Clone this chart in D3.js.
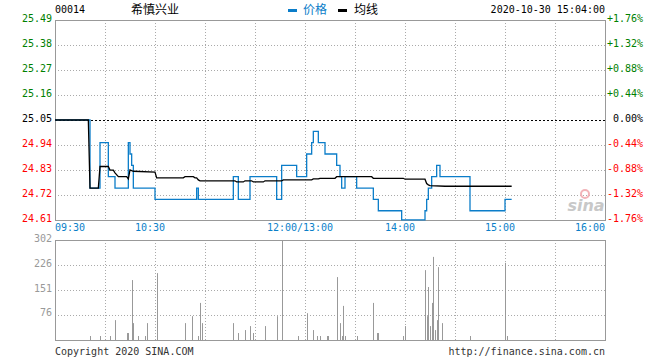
<!DOCTYPE html>
<html lang="zh">
<head>
<meta charset="utf-8">
<title>00014 希慎兴业 分时</title>
<script src="https://d3js.org/d3.v7.min.js"></script>
<style>
  body { margin: 0; background: #fff; }
  text { font-family: "DejaVu Sans Mono", monospace; font-size: 10px; }
</style>
</head>
<body>
<script>
// quote data
var prevClose = 25.05
var pctRange = 0.0176

var priceTimes = ["09:30","09:51","09:57","10:02","10:06","10:14","10:15","10:16","10:17","10:30",
                  "10:55","10:56","11:17","11:20","11:27","11:43","11:46","11:55","13:01","13:04",
                  "13:05","13:08","13:12","13:19","13:21","13:22","13:24","13:31","13:41","13:44",
                  "13:58","14:12","14:13","14:14","14:16","14:18","14:19","14:21","14:39","15:00","15:04"]
var priceValues = [25.05,24.75,24.95,24.80,24.75,24.95,24.90,24.85,24.75,24.70,
                   24.75,24.70,24.80,24.70,24.80,24.70,24.85,24.80,24.90,24.95,
                   25.00,24.95,24.90,24.85,24.80,24.75,24.80,24.75,24.70,24.65,
                   24.61,24.65,24.70,24.75,24.80,24.80,24.85,24.80,24.65,24.70,24.70]

var avgTimes = ["09:30","09:50","09:51","09:56","09:57","10:02","10:03","10:05","10:06","10:08",
                "10:13","10:14","10:15","10:17","10:30","10:31","10:47","10:48","10:53","10:54",
                "10:55","10:56","10:57","11:18","11:19","11:23","11:24","11:28","11:29","11:35",
                "11:36","11:46","11:47","13:04","13:05","13:08","13:09","13:18","13:19","13:40",
                "13:41","13:59","14:00","14:12","14:13","14:14","14:15","14:24","15:04"]
var avgValues = [25.05,25.05,24.75,24.75,24.845,24.845,24.829,24.829,24.817,24.80,
                 24.80,24.79,24.83,24.824,24.82,24.795,24.795,24.80,24.80,24.795,
                 24.795,24.786,24.782,24.782,24.777,24.777,24.782,24.782,24.777,24.777,
                 24.782,24.782,24.786,24.786,24.79,24.79,24.793,24.793,24.80,24.80,
                 24.793,24.793,24.789,24.789,24.77,24.764,24.761,24.758,24.758]

var volTimes = ["09:51","09:57","10:03","10:06","10:13","10:14","10:16","10:17","10:20","10:24",
                "10:25","10:31","10:48","10:52","10:56","10:57","10:58","11:17","11:20","11:24",
                "11:27","11:29","11:36","11:43","11:46","11:56","13:01","13:05","13:07","13:09",
                "13:13","13:14","13:19","13:21","13:22","13:23","13:24","13:31","13:41","13:43",
                "13:44","13:59","14:00","14:12","14:13","14:14","14:15","14:16","14:17","14:18",
                "14:19","14:20","14:22","14:39","15:00","15:01"]
var volValues = [12,12,12,60,21,21,181,51,12,12,
                 51,202,51,72,12,112,51,51,21,30,
                 42,21,42,72,302,12,81,30,12,12,
                 12,12,190,51,12,103,12,12,112,21,
                 21,12,42,211,72,160,42,112,251,30,
                 60,220,51,12,233,12]

var volTicks = [76, 151, 226, 302]
var timeTicks = ["09:30", "10:30", "12:00/13:00", "14:00", "15:00", "16:00"]

// layout
var w = 660, h = 360
var left = 55, right = 605
var pTop = 20, pBottom = 220
var vTop = 240, vBottom = 340

// minutes of trading since 09:30, lunch break squeezed out
function toMin(t) {
	var hh = +t.slice(0, 2), mm = +t.slice(3, 5)
	var m = hh * 60 + mm - 570
	if (hh >= 13) m -= 60
	return m
}

var x = d3.scaleLinear().domain([0, 330]).range([left, right])
var yP = d3.scaleLinear()
			.domain([prevClose * (1 - pctRange), prevClose * (1 + pctRange)])
			.range([pBottom, pTop])
var yV = d3.scaleLinear().domain([0, d3.max(volValues)]).range([vBottom, vTop])

var svg = d3.select("body").append("svg")
			.attr("width", w)
			.attr("height", h)

var grid = "#aaa"

// vertical grid lines every half hour
var gx = d3.range(30, 330, 30)
;[[pTop, pBottom], [vTop, vBottom]].forEach(function(r) {
	svg.selectAll(null).data(gx).enter().append("line")
		.attr("x1", function(d) { return Math.round(x(d)) + 0.5 })
		.attr("x2", function(d) { return Math.round(x(d)) + 0.5 })
		.attr("y1", r[0]).attr("y2", r[1])
		.attr("stroke", grid).attr("stroke-dasharray", "1,2")
})

// price level lines
var pLevels = d3.range(-4, 5).map(function(k) { return prevClose * (1 + pctRange * k / 4) })
svg.selectAll(null).data(pLevels.filter(function(d, i) { return i > 0 && i < 8 && i != 4 }))
	.enter().append("line")
	.attr("x1", left).attr("x2", right)
	.attr("y1", function(d) { return Math.round(yP(d)) + 0.5 })
	.attr("y2", function(d) { return Math.round(yP(d)) + 0.5 })
	.attr("stroke", grid).attr("stroke-dasharray", "1,2")

svg.selectAll(null).data(volTicks.slice(0, 3)).enter().append("line")
	.attr("x1", left).attr("x2", right)
	.attr("y1", function(d) { return Math.round(yV(d)) + 0.5 })
	.attr("y2", function(d) { return Math.round(yV(d)) + 0.5 })
	.attr("stroke", grid).attr("stroke-dasharray", "1,2")

// prev close line
svg.append("line")
	.attr("x1", left).attr("x2", right)
	.attr("y1", Math.round(yP(prevClose)) + 0.5).attr("y2", Math.round(yP(prevClose)) + 0.5)
	.attr("stroke", "#000").attr("stroke-dasharray", "2,2")

// frames
svg.append("rect").attr("x", left + 0.5).attr("y", pTop + 0.5)
	.attr("width", right - left).attr("height", pBottom - pTop)
	.attr("fill", "none").attr("stroke", "#999")
svg.append("rect").attr("x", left + 0.5).attr("y", vTop + 0.5)
	.attr("width", right - left).attr("height", vBottom - vTop)
	.attr("fill", "none").attr("stroke", "#999")

// sina watermark
svg.append("circle").attr("cx", 585).attr("cy", 194).attr("r", 4)
	.attr("fill", "none").attr("stroke", "#f2b3b8").attr("stroke-width", 2)
svg.append("text").attr("x", 586).attr("y", 211).attr("text-anchor", "middle")
	.style("font-family", "DejaVu Sans").style("font-size", "16px")
	.style("font-style", "italic").style("font-weight", "bold")
	.attr("fill", "#c8c8c8").text("sina")

// volume bars
svg.selectAll(null).data(volValues).enter().append("line")
	.attr("x1", function(d, i) { return Math.round(x(toMin(volTimes[i]))) + 0.5 })
	.attr("x2", function(d, i) { return Math.round(x(toMin(volTimes[i]))) + 0.5 })
	.attr("y1", yV(0))
	.attr("y2", function(d) { return yV(d) })
	.attr("stroke", "#999")

// avg + price lines
var avgLine = d3.line()
	.x(function(d, i) { return x(toMin(avgTimes[i])) })
	.y(function(d) { return yP(d) })
var priceLine = d3.line()
	.x(function(d, i) { return x(toMin(priceTimes[i])) })
	.y(function(d) { return yP(Math.max(d, yP.domain()[0])) })
	.curve(d3.curveStepAfter)

svg.append("path").attr("d", priceLine(priceValues))
	.attr("fill", "none").attr("stroke", "#0b7dc9").attr("stroke-width", 1.3)
svg.append("path").attr("d", avgLine(avgValues))
	.attr("fill", "none").attr("stroke", "#000").attr("stroke-width", 1.3)

// axis labels
function pColor(d) {
	if (Math.abs(d - prevClose) < 1e-6) return "#000"
	return d > prevClose ? "#008000" : "#f00"
}
svg.selectAll(null).data(pLevels).enter().append("text")
	.attr("x", 52).attr("y", function(d) { return yP(d) + 1.5 })
	.attr("text-anchor", "end").attr("fill", pColor)
	.text(function(d) { return d.toFixed(2) })
svg.selectAll(null).data(pLevels).enter().append("text")
	.attr("x", 643).attr("y", function(d) { return yP(d) + 1.5 })
	.attr("text-anchor", "end").attr("fill", pColor)
	.text(function(d) {
		var p = (d / prevClose - 1) * 100
		return (p > 0.001 ? "+" : "") + p.toFixed(2) + "%"
	})
svg.selectAll(null).data(volTicks).enter().append("text")
	.attr("x", 52).attr("y", function(d) { return yV(d) + 1.5 })
	.attr("text-anchor", "end").attr("fill", "#999")
	.text(function(d) { return d })

svg.selectAll(null).data(timeTicks).enter().append("text")
	.attr("x", function(d, i) {
		if (i == 0) return left
		if (i == timeTicks.length - 1) return right
		return x(toMin(d.slice(-5))) - 5
	})
	.attr("y", 231)
	.attr("text-anchor", function(d, i) { return i == 0 ? "start" : (i == timeTicks.length - 1 ? "end" : "middle") })
	.attr("fill", "#0a7fc9")
	.text(function(d) { return d })

// header
svg.append("text").attr("x", 55).attr("y", 13).attr("fill", "#000").text("00014")
svg.append("text").attr("x", 131).attr("y", 14).attr("fill", "#000")
	.style("font-family", "'Noto Sans CJK SC'").style("font-size", "12px").text("希慎兴业")
svg.append("rect").attr("x", 288).attr("y", 9).attr("width", 9).attr("height", 3).attr("fill", "#0b7dc9")
svg.append("text").attr("x", 303).attr("y", 14).attr("fill", "#0b7dc9")
	.style("font-family", "'Noto Sans CJK SC'").style("font-size", "12px").text("价格")
svg.append("rect").attr("x", 338).attr("y", 9).attr("width", 9).attr("height", 3).attr("fill", "#000")
svg.append("text").attr("x", 354).attr("y", 14).attr("fill", "#000")
	.style("font-family", "'Noto Sans CJK SC'").style("font-size", "12px").text("均线")
svg.append("text").attr("x", 605).attr("y", 13).attr("text-anchor", "end").attr("fill", "#000")
	.text("2020-10-30 15:04:00")

// footer
svg.append("text").attr("x", 55).attr("y", 355).attr("fill", "#333").text("Copyright 2020 SINA.COM")
svg.append("text").attr("x", 605).attr("y", 355).attr("text-anchor", "end").attr("fill", "#333")
	.text("http://finance.sina.com.cn")
</script>
</body>
</html>
